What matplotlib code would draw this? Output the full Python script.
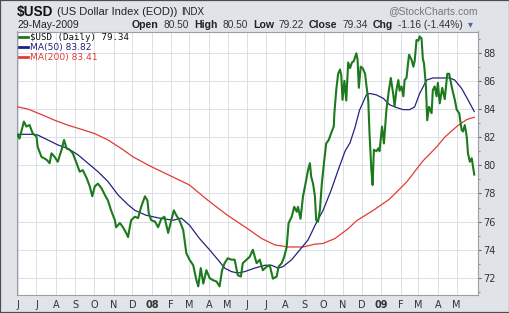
import matplotlib
matplotlib.use("Agg")
import matplotlib.pyplot as plt
import pandas as pd
from matplotlib.patches import Rectangle
from matplotlib.ticker import MultipleLocator
from matplotlib.lines import Line2D

# ---------------- data ----------------
price_dates = [
    "2007-06-01", "2007-06-04", "2007-06-11", "2007-06-15", "2007-06-20", "2007-06-25",
    "2007-07-01", "2007-07-03", "2007-07-09", "2007-07-17", "2007-07-22", "2007-07-25",
    "2007-07-30", "2007-08-04", "2007-08-10", "2007-08-14", "2007-08-18", "2007-08-23",
    "2007-08-28", "2007-09-03", "2007-09-08", "2007-09-13", "2007-09-19", "2007-09-24",
    "2007-09-28", "2007-10-02", "2007-10-07", "2007-10-13", "2007-10-18", "2007-10-23",
    "2007-10-28", "2007-11-03", "2007-11-05", "2007-11-11", "2007-11-16", "2007-11-21",
    "2007-11-24", "2007-11-27", "2007-11-29", "2007-12-05", "2007-12-10", "2007-12-15",
    "2007-12-21", "2007-12-25", "2007-12-27", "2007-12-31", "2008-01-06", "2008-01-11",
    "2008-01-16", "2008-01-21", "2008-01-27", "2008-02-01", "2008-02-05", "2008-02-09",
    "2008-02-14", "2008-02-20", "2008-02-25", "2008-03-01", "2008-03-07", "2008-03-12",
    "2008-03-15", "2008-03-19", "2008-03-23", "2008-03-28", "2008-04-02", "2008-04-07",
    "2008-04-13", "2008-04-18", "2008-04-22", "2008-04-26", "2008-05-01", "2008-05-07",
    "2008-05-12", "2008-05-17", "2008-05-22", "2008-05-25", "2008-05-31", "2008-06-05",
    "2008-06-10", "2008-06-16", "2008-06-21", "2008-06-26", "2008-07-02", "2008-07-07",
    "2008-07-12", "2008-07-18", "2008-07-21", "2008-07-26", "2008-07-30", "2008-08-03",
    "2008-08-06", "2008-08-11", "2008-08-15", "2008-08-19", "2008-08-21", "2008-08-25",
    "2008-08-29", "2008-09-02", "2008-09-06", "2008-09-09", "2008-09-11", "2008-09-14",
    "2008-09-17", "2008-09-19", "2008-09-22", "2008-09-25", "2008-09-28", "2008-10-02",
    "2008-10-05", "2008-10-09", "2008-10-13", "2008-10-17", "2008-10-18", "2008-10-21",
    "2008-10-24", "2008-10-27", "2008-10-29", "2008-10-31", "2008-11-03", "2008-11-06",
    "2008-11-09", "2008-11-12", "2008-11-15", "2008-11-18", "2008-11-22", "2008-11-24",
    "2008-11-26", "2008-11-29", "2008-12-02", "2008-12-06", "2008-12-08", "2008-12-11",
    "2008-12-13", "2008-12-16", "2008-12-18", "2008-12-20", "2008-12-24", "2008-12-27",
    "2008-12-29", "2009-01-02", "2009-01-05", "2009-01-09", "2009-01-13", "2009-01-16",
    "2009-01-20", "2009-01-22", "2009-01-25", "2009-01-28", "2009-01-30", "2009-02-02",
    "2009-02-05", "2009-02-07", "2009-02-10", "2009-02-14", "2009-02-18", "2009-02-21",
    "2009-02-23", "2009-02-26", "2009-03-01", "2009-03-03", "2009-03-06", "2009-03-08",
    "2009-03-10", "2009-03-13", "2009-03-15", "2009-03-18", "2009-03-22", "2009-03-24",
    "2009-03-27", "2009-03-30", "2009-04-01", "2009-04-04", "2009-04-08", "2009-04-12",
    "2009-04-16", "2009-04-19", "2009-04-23", "2009-04-25", "2009-04-28", "2009-05-01",
    "2009-05-05", "2009-05-09", "2009-05-11", "2009-05-14", "2009-05-17", "2009-05-19",
    "2009-05-22", "2009-05-25", "2009-05-29",
]
price_values = [
    82.15, 81.9, 83.1, 82.75, 82.86, 82.27,
    82.05, 81.3, 80.6, 80.4, 80.15, 80.85,
    80.6, 80.25, 81.1, 81.8, 81.2, 81.1,
    80.85, 80.15, 79.55, 79.65, 79.1, 78.5,
    77.8, 78.5, 78.7, 78.35, 77.9, 77.5,
    76.8, 76.1, 75.6, 75.9, 75.6, 75.2,
    74.9, 75.65, 76.1, 76.35, 76.25, 77.05,
    77.8, 77.5, 76.6, 76.1, 76.0, 75.6,
    76.2, 76.35, 75.2, 76.1, 76.8, 76.45,
    76.1, 75.4, 73.75, 73.3, 72.9, 71.85,
    71.4, 72.7, 71.6, 72.55, 72.0, 71.85,
    71.75, 71.4, 72.55, 73.05, 73.4, 73.3,
    73.3, 72.2, 72.1, 73.05, 73.3, 73.5,
    74.0, 73.05, 73.3, 72.55, 72.8, 72.9,
    71.95, 72.1, 72.8, 73.05, 73.5, 74.2,
    75.9, 76.35, 77.05, 76.7, 77.05, 76.2,
    77.8, 78.7, 79.65, 80.15, 79.2, 78.7,
    77.8, 76.1, 76.0, 76.85, 78.7, 80.4,
    81.55, 81.8, 82.3, 82.75, 83.7, 85.35,
    86.5, 86.8, 86.4, 84.65, 86.0, 84.6,
    87.3, 86.9, 87.3, 87.4, 87.95, 87.5,
    85.5, 87.0, 86.9, 86.5, 85.7, 84.65,
    82.3, 79.65, 78.6, 81.1, 81.0, 81.2,
    81.0, 82.75, 81.55, 83.95, 85.35, 86.2,
    85.0, 84.2, 85.35, 86.05, 85.3, 85.6,
    84.9, 86.05, 86.2, 87.85, 87.5, 87.0,
    87.4, 88.9, 88.85, 89.15, 89.0, 87.6,
    87.2, 85.6, 83.2, 84.15, 83.7, 85.35,
    85.6, 84.9, 85.85, 84.4, 85.5, 84.7,
    86.5, 86.5, 85.6, 85.2, 84.65, 83.95,
    83.7, 82.5, 82.4, 82.85, 82.05, 80.85,
    80.25, 80.5, 79.34,
]

ma50_dates = [
    "2007-06-01", "2007-06-23", "2007-07-03", "2007-07-19", "2007-08-04", "2007-08-20",
    "2007-09-05", "2007-09-21", "2007-10-07", "2007-10-23", "2007-11-08", "2007-11-24",
    "2007-12-05", "2007-12-23", "2008-01-13", "2008-02-04", "2008-02-17", "2008-03-01",
    "2008-03-17", "2008-04-02", "2008-04-18", "2008-04-26", "2008-05-07", "2008-05-17",
    "2008-05-28", "2008-06-13", "2008-06-29", "2008-07-10", "2008-07-20", "2008-07-28",
    "2008-08-11", "2008-08-24", "2008-09-06", "2008-09-19", "2008-09-30", "2008-10-13",
    "2008-10-24", "2008-11-04", "2008-11-12", "2008-11-20", "2008-11-27", "2008-12-08",
    "2008-12-13", "2008-12-24", "2009-01-04", "2009-01-14", "2009-01-25", "2009-02-05",
    "2009-02-15", "2009-02-23", "2009-03-03", "2009-03-14", "2009-03-24", "2009-04-09",
    "2009-04-20", "2009-04-28", "2009-05-09", "2009-05-19", "2009-05-29",
]
ma50_values = [
    82.2, 82.2, 82.15, 81.8, 81.45, 81.2,
    80.75, 80.15, 79.55, 78.85, 77.9, 77.2,
    76.8, 76.45, 76.25, 76.1, 76.25, 75.75,
    74.8, 74.0, 73.15, 72.7, 72.45, 72.35,
    72.45, 72.7, 72.9, 72.9, 72.7, 72.8,
    73.3, 74.0, 74.7, 75.9, 76.8, 78.25,
    79.65, 81.0, 81.6, 82.7, 83.9, 85.0,
    85.1, 85.0, 84.75, 84.3, 84.1, 83.95,
    83.95, 84.15, 85.1, 86.05, 86.2, 86.2,
    86.2, 86.05, 85.45, 84.65, 83.82,
]

ma200_dates = [
    "2007-06-01", "2007-06-17", "2007-07-09", "2007-07-30", "2007-08-20", "2007-09-11",
    "2007-10-02", "2007-10-23", "2007-11-13", "2007-12-02", "2007-12-29", "2008-02-09",
    "2008-03-01", "2008-03-28", "2008-04-29", "2008-05-31", "2008-06-24", "2008-07-15",
    "2008-08-05", "2008-08-29", "2008-09-17", "2008-09-30", "2008-10-19", "2008-11-09",
    "2008-11-22", "2008-12-19", "2009-01-14", "2009-02-10", "2009-03-08", "2009-03-30",
    "2009-04-12", "2009-05-01", "2009-05-17", "2009-05-29",
]
ma200_values = [
    84.15, 84.0, 83.6, 83.2, 82.85, 82.55,
    82.25, 81.8, 81.2, 80.6, 79.95, 79.05,
    78.6, 77.6, 76.5, 75.55, 74.8, 74.35,
    74.2, 74.2, 74.4, 74.45, 74.8, 75.5,
    76.05, 76.8, 77.6, 78.8, 80.3, 81.3,
    82.0, 82.75, 83.25, 83.41,
]

month_labels = ["J", "J", "A", "S", "O", "N", "D", "08", "F", "M", "A", "M",
                "J", "J", "A", "S", "O", "N", "D", "09", "F", "M", "A", "M"]
y_ticks = [72, 74, 76, 78, 80, 82, 84, 86, 88]

# ---------------- figure ----------------
W, H = 510, 313
fig = plt.figure(figsize=(W / 100, H / 100), dpi=100, facecolor="#e0e3e8")


def fx(x):
    return x / W


def fy(y):
    return 1 - y / H


left, right, top, bottom = 17, 478, 31.5, 295
ax = fig.add_axes([fx(left), fy(bottom), (right - left) / W, (bottom - top) / H])
ax.set_facecolor("white")

pd_price = pd.to_datetime(price_dates)
pd_ma50 = pd.to_datetime(ma50_dates)
pd_ma200 = pd.to_datetime(ma200_dates)

green, navy, red = "#1c7a1c", "#23237f", "#e23b36"
ax.plot(pd_ma200, ma200_values, color=red, lw=0.9, zorder=3)
ax.plot(pd_ma50, ma50_values, color=navy, lw=0.9, zorder=3)
ax.plot(pd_price, price_values, color=green, lw=1.5, zorder=4, solid_joinstyle="round")

ax.set_xlim(pd.Timestamp("2007-05-31"), pd.Timestamp("2009-06-04"))
ax.set_ylim(70.79, 89.5)

month_pos = pd.date_range("2007-06-01", "2009-05-01", freq="MS")
ax.set_xticks(month_pos)
ax.set_xticklabels(month_labels)
for lab in ax.get_xticklabels():
    if lab.get_text() in ("08", "09"):
        lab.set_fontweight("bold")
ax.tick_params(axis="x", length=0, pad=3.5, labelsize=7, colors="#333333")

ax.yaxis.tick_right()
ax.set_yticks(y_ticks)
ax.yaxis.set_minor_locator(MultipleLocator(1))
ax.tick_params(axis="y", which="major", length=2.5, width=0.6, pad=1.5,
               labelsize=7, colors="#444444", labelcolor="#333333")
ax.tick_params(axis="y", which="minor", length=1.5, width=0.5, colors="#666666")

ax.grid(True, which="major", color="#d6dae0", lw=0.6, zorder=0)
for s in ax.spines.values():
    s.set_color("#9a9ea6")
    s.set_linewidth(0.8)

# legend
handles = [Line2D([], [], color=green, lw=2),
           Line2D([], [], color=navy, lw=2),
           Line2D([], [], color=red, lw=2)]
labels = [f"$USD (Daily) {price_values[-1]:.2f}",
          f"MA(50) {ma50_values[-1]:.2f}",
          f"MA(200) {ma200_values[-1]:.2f}"]
leg = ax.legend(handles, labels, loc="upper left", bbox_to_anchor=(0.002, 1.0),
                frameon=False, fontsize=6.6, handlelength=0.9, handletextpad=0.3,
                labelspacing=0.1, borderpad=0.15, borderaxespad=0)
texts = leg.get_texts()
texts[0].set_family("DejaVu Sans Mono")
texts[0].set_color("#111111")
texts[1].set_color(navy)
texts[2].set_color(red)

# ---------------- header texts (chained so they never overlap) ----------------
fig.canvas.draw()
renderer = fig.canvas.get_renderer()
HF = "Liberation Sans"


def chain(x0, y, parts, gap=3):
    x = x0
    for txt, kw in parts:
        t = fig.text(fx(x), fy(y), txt, va="center", **kw)
        bb = t.get_window_extent(renderer)
        x = bb.x1 + gap
    return x


chain(17, 12, [("$USD", dict(fontsize=9.8, fontweight="bold", color="#111111", family=HF)),
               ("(US Dollar Index (EOD))", dict(fontsize=8, color="#222222", family=HF)),
               ("INDX", dict(fontsize=7, color="#222222", family=HF))], gap=3.5)
fig.text(fx(478), fy(11), "@StockCharts.com", fontsize=7.5, color="#777777",
         va="center", ha="right", family=HF)
fig.text(fx(17), fy(24.5), "29-May-2009", fontsize=7.5, color="#222222", va="center", family=HF)

bold = dict(fontsize=7.6, fontweight="bold", color="#222222", family=HF)
norm = dict(fontsize=7.3, color="#333333", family=HF)
chain(132, 24.5, [("Open", bold), ("80.50", norm), ("High", bold), ("80.50", norm),
                  ("Low", bold), ("79.22", norm), ("Close", bold), ("79.34", norm),
                  ("Chg", bold), ("-1.16 (-1.44%)", norm),
                  ("\u25be", dict(fontsize=7, color="#4a6a9a", family="DejaVu Sans"))],
      gap=5)

fig.patches.append(Rectangle((0, 0), 1, 1, transform=fig.transFigure, fill=False,
                             ec="#4a4d52", lw=1.6, zorder=10))

fig.savefig("out.png", dpi=100, facecolor=fig.get_facecolor())
